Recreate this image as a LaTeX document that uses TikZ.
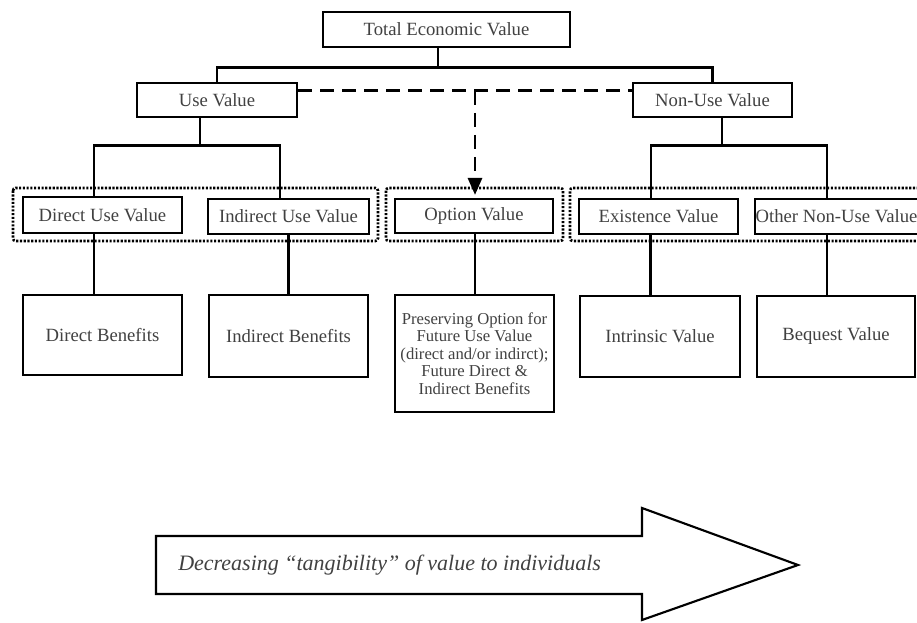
\documentclass[tikz,border=0pt]{standalone}
\usepackage{fontspec}
\setmainfont{Liberation Serif}
\usetikzlibrary{arrows.meta,calc}
\newcommand\pxu{0.75pt}
\definecolor{txt}{RGB}{65,65,65}
\begin{document}
\begin{tikzpicture}[x=0.75pt,y=-0.75pt,
  bx/.style={draw=black,line width=1.6pt,fill=white,inner sep=0pt,align=center,text=txt,
    font=\fontsize{14}{15}\selectfont},
  conn/.style={draw=black,line width=2.2pt},
  dashline/.style={draw=black,line width=2.2pt,dash pattern=on 10.5pt off 6pt},
  grp/.style={draw=black,line width=2pt,dash pattern=on 1.6pt off 1.2pt,rounded corners=2pt}]
\useasboundingbox (0,0) rectangle (917,623);
% dotted groups
\draw[grp] (13,188) rectangle (378,241);
\draw[grp] (386,188) rectangle (563,241);
\draw[grp] (930,188) -- (570,188) -- (570,241) -- (930,241);
% boxes
\node[bx,minimum width=247*\pxu,minimum height=35*\pxu] (total) at (446.5,29.5) {Total Economic Value};
\node[bx,minimum width=160*\pxu,minimum height=34*\pxu] (use) at (217,100) {Use Value};
\node[bx,minimum width=159*\pxu,minimum height=34*\pxu] (nonuse) at (712.5,100) {Non-Use Value};
\node[bx,minimum width=159*\pxu,minimum height=36*\pxu] (direct) at (102.5,215) {Direct Use Value};
\node[bx,minimum width=161*\pxu,minimum height=35*\pxu] (indirect) at (288.5,216.5) {Indirect Use Value};
\node[bx,minimum width=158*\pxu,minimum height=34*\pxu] (option) at (474,216) {Option Value};
\node[bx,minimum width=159*\pxu,minimum height=35*\pxu] (exist) at (658.5,216.5) {Existence Value};
\node[bx,minimum width=163*\pxu,minimum height=35*\pxu] (other) at (836.5,216.5) {Other Non-Use Value};
\node[bx,minimum width=159*\pxu,minimum height=80*\pxu] (dben) at (102.5,335) {Direct Benefits};
\node[bx,minimum width=159*\pxu,minimum height=82*\pxu] (iben) at (288.5,336) {Indirect Benefits};
\node[bx,minimum width=159*\pxu,minimum height=117*\pxu,font=\fontsize{12.5}{13.2}\selectfont] (pres) at (474.5,353.5)
  {Preserving Option for\\Future Use Value\\(direct and/or indirct);\\Future Direct \&\\Indirect Benefits};
\node[bx,minimum width=160*\pxu,minimum height=81*\pxu] (intr) at (660,336.5) {Intrinsic Value};
\node[bx,minimum width=158*\pxu,minimum height=81*\pxu] (beq) at (836,336.5) {Bequest Value};
% tree connectors
\draw[conn] ([xshift=-8.5*\pxu]total.south) -- ++(0,19) coordinate (tj);
\draw[conn] (use.north) |- (tj) -| (nonuse.north);
\draw[conn] ([xshift=-17*\pxu]use.south) -- ++(0,27) coordinate (uj);
\draw[conn] ([xshift=-8.5*\pxu]direct.north) |- (uj) -| ([xshift=-8.5*\pxu]indirect.north);
\draw[conn] ([xshift=9.5*\pxu]nonuse.south) -- ++(0,27) coordinate (nj);
\draw[conn] ([xshift=-7.5*\pxu]exist.north) |- (nj) -| ([xshift=-9.5*\pxu]other.north);
% down connectors
\draw[conn] ([xshift=-8.5*\pxu]direct.south) -- ([xshift=-8.5*\pxu]direct.south |- dben.north);
\draw[conn] (indirect.south) -- (indirect.south |- iben.north);
\draw[conn] ([xshift=1*\pxu]option.south) -- ([xshift=1*\pxu]option.south |- pres.north);
\draw[conn] ([xshift=-8*\pxu]exist.south) -- ([xshift=-8*\pxu]exist.south |- intr.north);
\draw[conn] ([xshift=-9.5*\pxu]other.south) -- ([xshift=-9.5*\pxu]other.south |- beq.north);
% dashed option link
\coordinate (dl) at ($(use.north east)!0.25!(use.south east)$);
\draw[dashline] (dl) -- (dl -| nonuse.west);
\draw[dashline,-{Triangle[width=14*\pxu,length=17*\pxu]},shorten >=3*\pxu]
  ([xshift=1*\pxu]option.north |- dl) -- ([xshift=1*\pxu]option.north);
% big arrow
\draw[line width=1.6pt,fill=white] (156,536) -- (642,536) -- (642,508) -- (798,565)
  -- (642,620) -- (642,594) -- (156,594) -- cycle;
\node[anchor=west,text=txt,inner sep=0pt,font=\fontsize{16.5}{18}\selectfont\itshape] (arrtxt) at (178,565)
  {Decreasing “tangibility” of value to individuals};
\end{tikzpicture}
\end{document}
